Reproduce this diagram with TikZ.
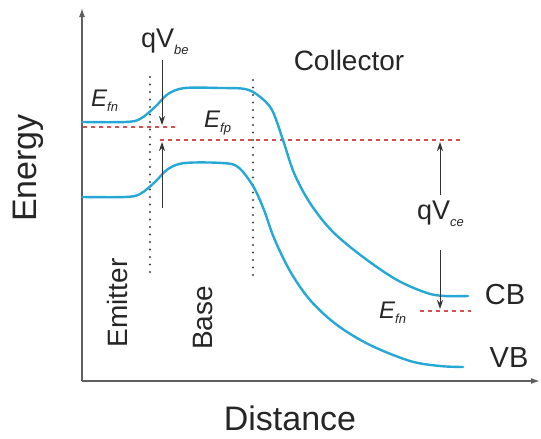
\documentclass[tikz,border=0pt]{standalone}
\usepackage{fontspec}
\setmainfont{Liberation Sans}
\usetikzlibrary{arrows.meta}
\definecolor{band}{RGB}{38,168,214}
\definecolor{fermi}{RGB}{214,80,80}
\definecolor{axisgray}{RGB}{95,95,95}
\newcommand{\sz}[1]{\fontsize{#1}{#1}\selectfont}
\newcommand{\lowsub}[2]{\raisebox{-#1}{\sz{13}\itshape #2}}
\begin{document}
\begin{tikzpicture}[x=1pt,y=-1pt,
  bandline/.style={draw=band, line width=2.4pt, line join=round, line cap=round},
  fermiline/.style={draw=fermi, line width=1.1pt, dash pattern=on 4pt off 4pt},
  divider/.style={draw=black!75, line width=2.4pt, dash pattern=on 0pt off 7.5pt, line cap=round},
  axisline/.style={draw=axisgray, line width=1.5pt, -{Latex[length=9pt,width=6pt]}},
  potarrow/.style={draw=black!80, line width=1pt, -{Stealth[length=9pt,width=6pt]}},
  lbl/.style={inner sep=0pt, text=black!85},
  big/.style={lbl, font=\sz{34}},
  mid/.style={lbl, font=\sz{28}},
  elbl/.style={lbl, font=\sz{24}\itshape}]
\useasboundingbox (0,0) rectangle (541,439);
% axes
\coordinate (o) at (82,381);
\coordinate (ytop) at (82,8);
\coordinate (xend) at (540,381);
\draw[axisline] (o) -- (ytop);
\draw[axisline] (o) -- (xend);
% region dividers
\coordinate (d1t) at (150,77);
\coordinate (d1b) at (150,278);
\coordinate (d2t) at (253,80);
\coordinate (d2b) at (253,280);
\draw[divider] (d1t) -- (d1b);
\draw[divider] (d2t) -- (d2b);
% Fermi levels
\coordinate (fnl) at (83,127);
\coordinate (fnr) at (178,127);
\coordinate (fpl) at (160,140);
\coordinate (fpr) at (462,140);
\coordinate (fn2l) at (420,311);
\coordinate (fn2r) at (471,311);
\draw[fermiline] (fnl) -- (fnr);
\draw[fermiline] (fpl) -- (fpr);
\draw[fermiline] (fn2l) -- (fn2r);
% bands
\draw[bandline] plot[smooth, tension=0.55] coordinates {
 (82,122) (125,122) (140,119) (155,107) (168,94) (185,88) (220,88) (245,89)
 (259,96) (272,110) (283,140) (294,173) (310,203) (332,231) (363,257)
 (397,280) (427,293) (445,296) (468,296)};
\draw[bandline] plot[smooth, tension=0.55] coordinates {
 (82,197) (125,197) (140,194) (155,182) (168,169) (185,163) (222,163) (238,167)
 (253,186) (264,210) (274,238) (290,271) (310,300) (337,325) (370,345)
 (410,361) (440,366) (463,367)};
% potential arrows
\coordinate (be1) at (162,60);
\coordinate (be2) at (162,125);
\coordinate (be3) at (162,208);
\coordinate (be4) at (162,142);
\coordinate (ce1) at (440,195);
\coordinate (ce2) at (440,142);
\coordinate (ce3) at (440,250);
\coordinate (ce4) at (440,309);
\draw[potarrow] (be1) -- (be2);
\draw[potarrow] (be3) -- (be4);
\draw[potarrow] (ce1) -- (ce2);
\draw[potarrow] (ce3) -- (ce4);
% labels
\node[big, rotate=90] (energy) at (28,168) {Energy};
\node[big, font=\sz{34}, anchor=base] (distance) at (290,430) {Distance};
\node[mid] (collector) at (349,60) {Collector};
\node[mid, rotate=90] (emitter) at (117,303) {Emitter};
\node[mid, rotate=90] (base) at (203,318) {Base};
\node[mid, font=\sz{29}] (cb) at (505,295) {CB};
\node[mid, font=\sz{29}] (vb) at (509,358) {VB};
\node[lbl, font=\sz{27}, anchor=west] (qvbe) at (141,42) {qV\lowsub{7pt}{be}};
\node[lbl, font=\sz{27}, anchor=west] (qvce) at (417,214) {qV\lowsub{7pt}{ce}};
\node[elbl, anchor=west] (efn1) at (91,101) {E\lowsub{5pt}{fn}};
\node[elbl, anchor=west] (efp) at (204,123) {E\lowsub{5pt}{fp}};
\node[elbl, anchor=west] (efn2) at (379,313) {E\lowsub{5pt}{fn}};
\end{tikzpicture}
\end{document}
